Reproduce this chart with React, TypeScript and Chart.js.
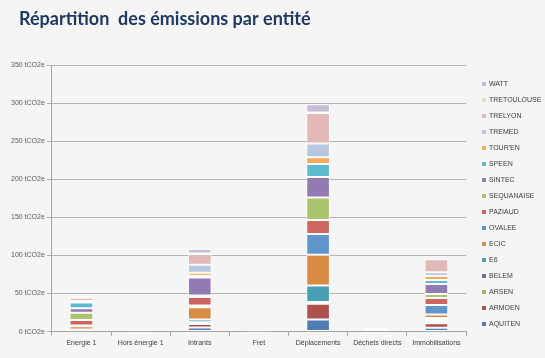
import { useEffect, useRef } from 'react';
import { Chart, registerables } from 'chart.js';

Chart.register(...registerables);

const TITLE = 'Répartition  des émissions par entité';

const categories = ['Energie 1', 'Hors énergie 1', 'Intrants', 'Fret', 'Déplacements', 'Déchets directs', 'Immobilisations'];

const yTicks = [0, 50, 100, 150, 200, 250, 300, 350];
const unit = ' tCO2e';

// values per entity, in the order of categories
const AQUITEN = [0.8, 0.3, 5.5, 0, 16, 0.3, 5];
const ARMOEN = [0.5, 0.2, 4.5, 0, 20.7, 0.2, 5.8];
const ARSEN = [0.4, 0, 1.2, 0, 1.1, 0, 2.5];
const BELEM = [0.3, 0, 1.2, 0, 1.1, 0, 2.2];
const E6 = [0.6, 0, 3.5, 0, 21.6, 0, 2.3];
const ECIC = [4.5, 0.3, 16, 0, 40.5, 0.2, 4.6];
const OVALEE = [1, 0.2, 2.4, 0, 27, 0.2, 12.6];
const PAZIAUD = [7, 0.2, 11, 0.1, 18.5, 0.2, 9];
const SEQUANAISE = [9.5, 0, 2, 0, 29.5, 0, 5.3];
const SINTEC = [6, 0.3, 23.6, 0.2, 27, 0.2, 13.3];
const SPEEN = [7.5, 0, 2.3, 0, 17, 0, 5.2];
const TOUREN = [1, 0, 4, 0, 9, 0, 5.2];
const TREMED = [1.2, 0, 10.7, 0, 18, 0.2, 4.8];
const TRELYON = [4, 0.4, 14, 0.3, 40, 2.5, 17.2];
const TRETOULOUSE = [0.5, 0, 0.5, 0, 0.5, 0, 0.3];
const WATT = [1.5, 0, 6, 0, 11, 0, 0.3];

const seriesNames = ['AQUITEN', 'ARMOEN', 'ARSEN', 'BELEM', 'E6', 'ECIC', 'OVALEE', 'PAZIAUD', 'SEQUANAISE', 'SINTEC', 'SPEEN', "TOUR'EN", 'TREMED', 'TRELYON', 'TRETOULOUSE', 'WATT'];
const seriesValues = [AQUITEN, ARMOEN, ARSEN, BELEM, E6, ECIC, OVALEE, PAZIAUD, SEQUANAISE, SINTEC, SPEEN, TOUREN, TREMED, TRELYON, TRETOULOUSE, WATT];
const seriesColors = [
  '#4F7EB3', '#AE524F', '#98B954', '#7E64A0', '#4A9FB5', '#D98C45',
  '#5F95CB', '#CD6560', '#A9C46C', '#927AB2', '#5DBACF', '#F8A95B',
  '#B8C7E0', '#E3B9B8', '#D7E4BD', '#C5BDD5',
];

const overlayPlugin = {
  id: 'overlay',
  afterDraw(chart: any) {
    const { ctx, chartArea } = chart;
    ctx.save();
    ctx.fillStyle = '#1F3A60';
    ctx.font = 'bold 18px Lato';
    ctx.textBaseline = 'alphabetic';
    ctx.textAlign = 'left';
    ctx.fillText(TITLE, 19, 25);

    const ds = chart.data.datasets;
    const n = ds.length;
    ctx.font = '7px "Liberation Sans"';
    ctx.textBaseline = 'middle';
    for (let k = 0; k < n; k++) {
      const d = ds[n - 1 - k];
      const y = chartArea.top + 19 + k * 16;
      ctx.fillStyle = d.backgroundColor;
      ctx.fillRect(chartArea.right + 16, y - 2, 4, 4);
      ctx.fillStyle = '#404040';
      ctx.fillText(d.label, chartArea.right + 23, y);
    }
    ctx.restore();
  },
};

export default function App() {
  const ref = useRef<HTMLCanvasElement | null>(null);

  useEffect(() => {
    if (!ref.current) return;
    const chart = new Chart(ref.current, {
      type: 'bar',
      data: {
        labels: categories,
        datasets: seriesNames.map((name, i) => ({
          label: name,
          data: seriesValues[i],
          backgroundColor: seriesColors[i],
          borderColor: '#FFFFFF',
          borderWidth: 1,
          borderSkipped: false,
          categoryPercentage: 0.8,
          barPercentage: 0.5,
        })),
      },
      options: {
        animation: false,
        responsive: true,
        maintainAspectRatio: false,
        layout: { padding: { top: 65, left: 9, right: 79, bottom: 8 } },
        plugins: {
          legend: { display: false },
          title: { display: false },
          tooltip: { enabled: false },
        },
        scales: {
          x: {
            stacked: true,
            grid: { drawOnChartArea: false, drawTicks: true, tickLength: 4, offset: true, color: '#A6A6A6' },
            border: { color: '#A6A6A6' },
            ticks: {
              maxRotation: 0,
              autoSkip: false,
              padding: 3,
              color: '#404040',
              font: { family: 'Liberation Sans', size: 7 },
            },
          },
          y: {
            stacked: true,
            min: yTicks[0],
            max: yTicks[yTicks.length - 1],
            afterBuildTicks: (scale: any) => {
              scale.ticks = yTicks.map((v) => ({ value: v }));
            },
            grid: { color: '#B4B4B4', tickLength: 5, drawTicks: true },
            border: { color: '#A6A6A6' },
            ticks: {
              padding: 2,
              color: '#595959',
              font: { family: 'Liberation Sans', size: 7 },
              callback: (v: any) => `${v}${unit}`,
            },
          },
        },
      },
      plugins: [overlayPlugin],
    });
    return () => chart.destroy();
  }, []);

  return (
    <div style={{ position: 'fixed', left: 0, top: 0, width: 545, height: 358, background: '#F5F5F5' }}>
      <canvas ref={ref} />
    </div>
  );
}
